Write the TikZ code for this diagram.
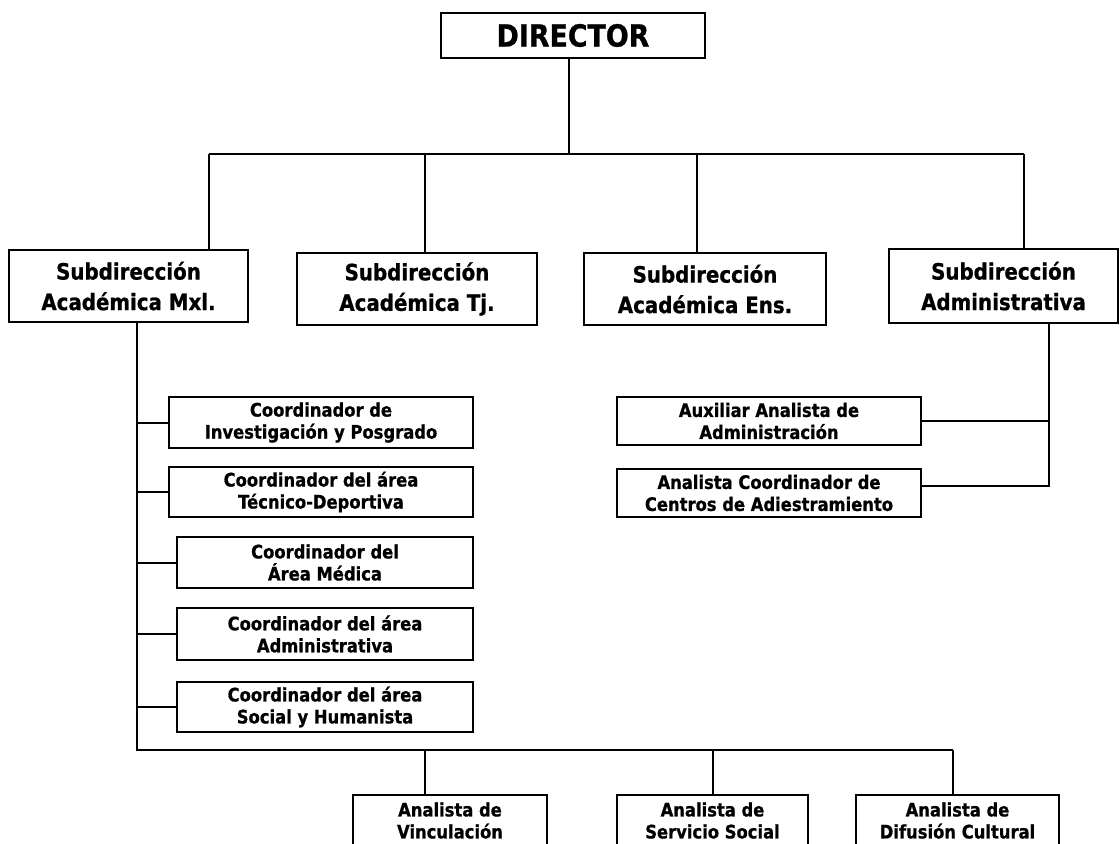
\documentclass[tikz,border=0pt]{standalone}
\usepackage{fontspec}
\setmainfont{DejaVu Sans}
\newfontfamily\tf{DejaVu Sans}[FakeStretch=0.88,BoldFeatures={FakeBold=0.8}]
\begin{document}
\begin{tikzpicture}[x=1pt,y=-1pt,
  box/.style={draw=black,line width=2pt,fill=white,rectangle,inner sep=0pt,align=center,text=black},
  big/.style={box,font=\tf\bfseries\fontsize{30.5}{34}\selectfont},
  sub/.style={box,font=\tf\bfseries\fontsize{22.5}{30.5}\selectfont},
  small/.style={box,font=\tf\bfseries\fontsize{18.6}{22}\selectfont},
  wire/.style={line width=2pt,black}]
\clip (0,0) rectangle (1120,844);
\fill[white] (0,0) rectangle (1120,844);
% nodes
\node[big,minimum width=264pt,minimum height=45pt] (dir) at (573,35.5) {DIRECTOR};
\node[sub,minimum width=239pt,minimum height=72pt] (mxl) at (128.5,286) {Subdirección\\Académica Mxl.};
\node[sub,minimum width=240pt,minimum height=72pt] (tj) at (417,289) {Subdirección\\Académica Tj.};
\node[sub,minimum width=242pt,minimum height=72pt] (ens) at (705,289) {Subdirección\\Académica Ens.};
\node[sub,minimum width=229pt,minimum height=74pt] (adm) at (1003.5,286) {Subdirección\\Administrativa};
\node[small,minimum width=304pt,minimum height=51pt] (c1) at (321,422.5) {Coordinador de\\Investigación y Posgrado};
\node[small,minimum width=304pt,minimum height=50pt] (c2) at (321,492) {Coordinador del área\\Técnico-Deportiva};
\node[small,minimum width=296pt,minimum height=51pt] (c3) at (325,562.5) {Coordinador del\\Área Médica};
\node[small,minimum width=296pt,minimum height=52pt] (c4) at (325,634) {Coordinador del área\\Administrativa};
\node[small,minimum width=296pt,minimum height=50pt] (c5) at (325,707) {Coordinador del área\\Social y Humanista};
\node[small,minimum width=304pt,minimum height=48pt] (aux) at (769,421) {Auxiliar Analista de\\Administración};
\node[small,minimum width=304pt,minimum height=48pt] (acd) at (769,493) {Analista Coordinador de\\Centros de Adiestramiento};
\node[small,minimum width=194pt,minimum height=51pt] (b1) at (450,820.5) {Analista de\\Vinculación};
\node[small,minimum width=191pt,minimum height=51pt] (b2) at (712.5,820.5) {Analista de\\Servicio Social};
\node[small,minimum width=203pt,minimum height=51pt] (b3) at (957.5,820.5) {Analista de\\Difusión Cultural};
% junction coordinates
\coordinate (top) at (569,154);
\coordinate (tl) at (209,154);
\coordinate (tr) at (1024,154);
\coordinate (t2) at (425,154);
\coordinate (t3) at (697,154);
\coordinate (sp) at (137,750);
\coordinate (bl1) at (425,750);
\coordinate (bl2) at (713,750);
\coordinate (bl3) at (953,750);
\coordinate (as) at (1049,486);
% connectors
\draw[wire] (dir.south -| top) -- (top);
\draw[wire] (tl) -- (tr);
\draw[wire] (tl) -- (tl |- mxl.north);
\draw[wire] (t2) -- (t2 |- tj.north);
\draw[wire] (t3) -- (t3 |- ens.north);
\draw[wire] (tr) -- (tr |- adm.north);
\draw[wire] (mxl.south -| sp) -- (sp) -- (bl3);
\draw[wire] (c1.west) -- (c1.west -| sp);
\draw[wire] (c2.west) -- (c2.west -| sp);
\draw[wire] (c3.west) -- (c3.west -| sp);
\draw[wire] (c4.west) -- (c4.west -| sp);
\draw[wire] (c5.west) -- (c5.west -| sp);
\draw[wire] (bl1) -- (bl1 |- b1.north);
\draw[wire] (bl2) -- (bl2 |- b2.north);
\draw[wire] (bl3) -- (bl3 |- b3.north);
\draw[wire] (adm.south -| as) -- (as) -- (as -| acd.east);
\draw[wire] (aux.east) -- (aux.east -| as);
\end{tikzpicture}
\end{document}
